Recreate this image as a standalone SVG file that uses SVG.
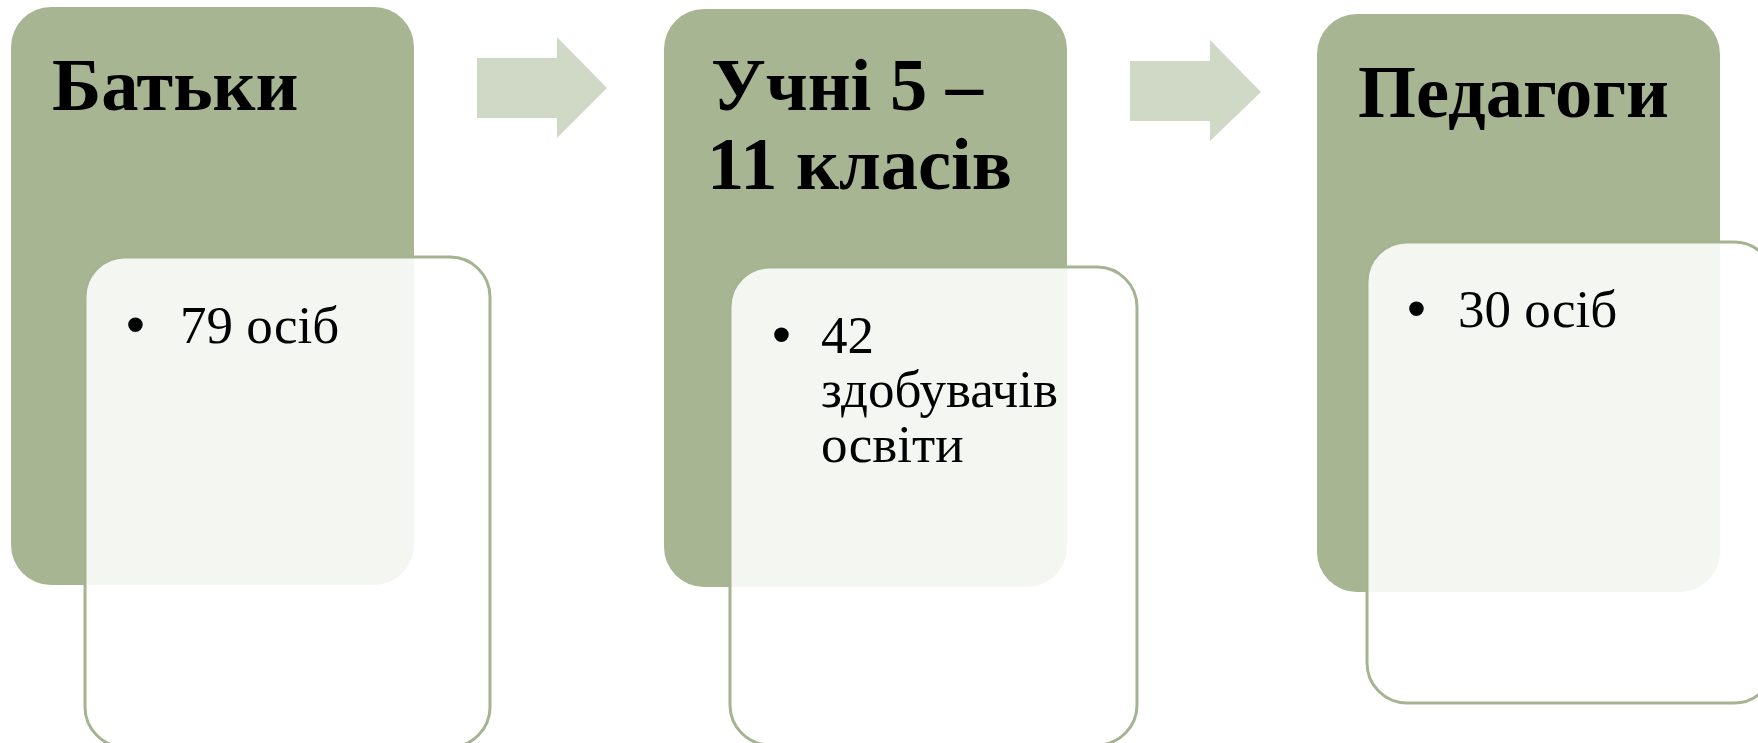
<svg xmlns="http://www.w3.org/2000/svg" width="1758" height="743" viewBox="0 0 1758 743">
<style>
.dark{fill:#a7b593}
.light{fill:#ffffff;fill-opacity:0.88;stroke:#a5b490;stroke-width:3}
.arrow{fill:#cfd9c6}
.title{font-family:"Liberation Serif","Times New Roman",serif;font-weight:bold;font-size:74.5px;fill:#000}
.body{font-family:"Liberation Serif","Times New Roman",serif;font-size:53px;fill:#000}
.bullet{font-family:"Liberation Sans",Arial,sans-serif;font-size:54px;fill:#000}
</style>
<rect width="1758" height="743" fill="#ffffff"/>
<g id="connectors">
<polygon class="arrow" points="477,58 557,58 557,37 607,88 557,138 557,118 477,118"/>
<polygon class="arrow" points="1130,61 1210,61 1210,40 1261,92 1210,141 1210,121 1130,121"/>
</g>
<g id="node-batky">
<rect class="dark" x="11" y="7" width="403" height="578" rx="40"/>
<text class="title" x="52" y="110">Батьки</text>
<rect class="light" x="85" y="257" width="405" height="490" rx="40"/>
<text class="bullet" x="126" y="343">•</text>
<text class="body" x="180" y="343">79 осіб</text>
</g>
<g id="node-uchni">
<rect class="dark" x="664" y="9" width="403" height="578" rx="40"/>
<text class="title" x="711" y="110">Учні 5 –</text>
<text class="title" x="707" y="189">11 класів</text>
<rect class="light" x="730" y="267" width="407" height="478" rx="40"/>
<text class="bullet" x="772" y="353">•</text>
<text class="body" x="821" y="353">42</text>
<text class="body" x="821" y="407">здобувачів</text>
<text class="body" x="821" y="462">освіти</text>
</g>
<g id="node-pedahohy">
<rect class="dark" x="1317" y="14" width="403" height="578" rx="40"/>
<text class="title" x="1358" y="117">Педагоги</text>
<rect class="light" x="1367" y="242" width="407" height="461" rx="40"/>
<text class="bullet" x="1407" y="327">•</text>
<text class="body" x="1458" y="327">30 осіб</text>
</g>
</svg>
